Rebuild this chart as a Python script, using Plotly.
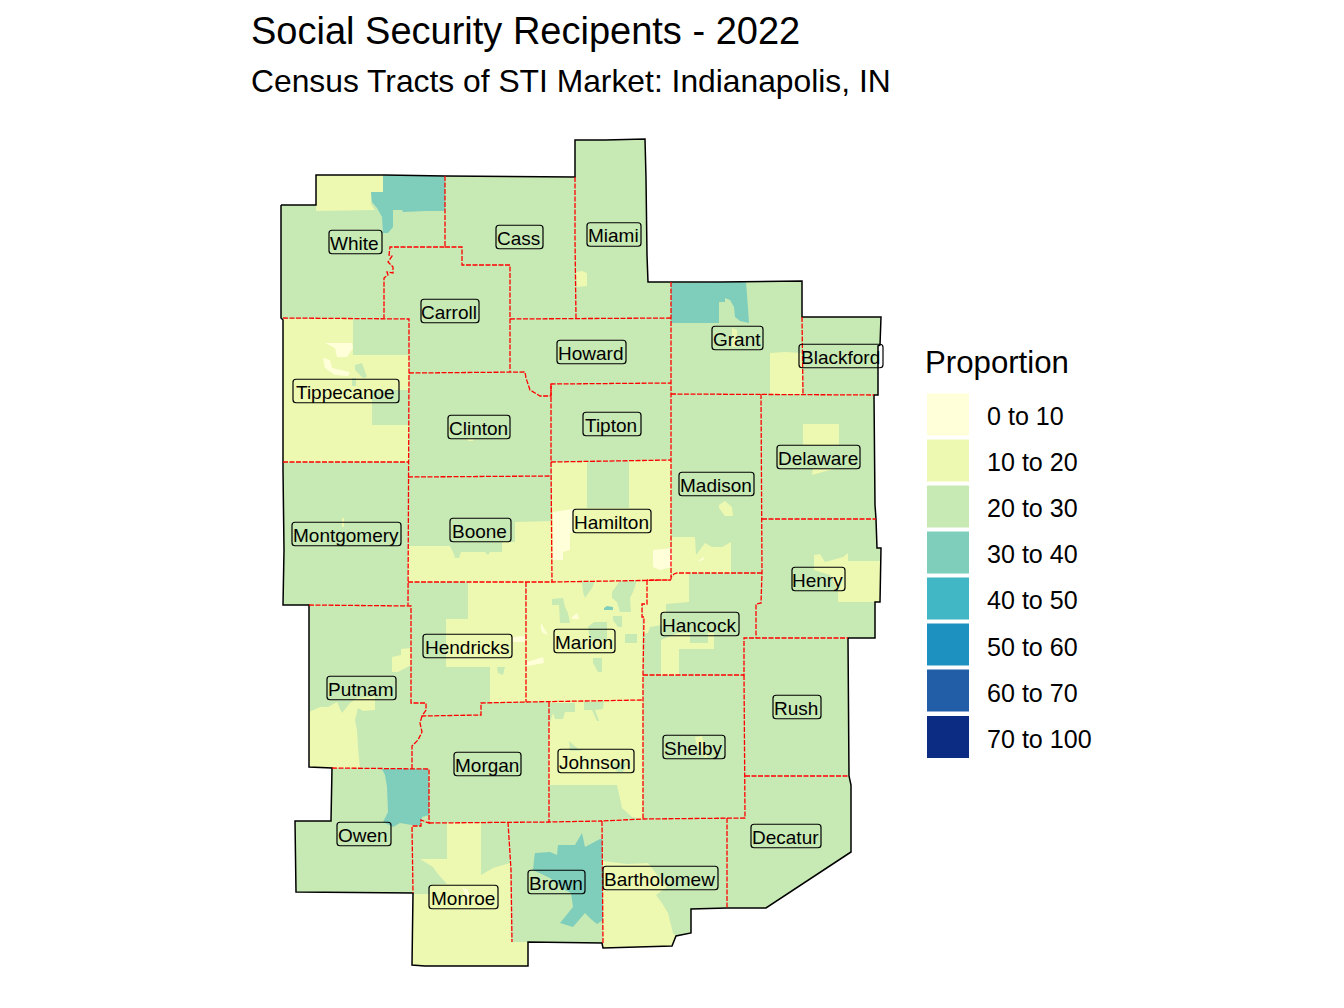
import plotly.graph_objects as go

TITLE = "Social Security Recipents - 2022"
SUBTITLE = "Census Tracts of STI Market: Indianapolis, IN"
LEGEND_TITLE = "Proportion"
BIN_LABELS = ["0 to 10", "10 to 20", "20 to 30", "30 to 40", "40 to 50", "50 to 60", "60 to 70", "70 to 100"]
BIN_COLORS = ["#FFFFD9", "#EDF8B1", "#C7E9B4", "#7FCDBB", "#41B6C4", "#1D91C0", "#225EA8", "#0C2C84"]

# study area, map units
OUTLINE = [(281,205),(316,205),(316,175),(385,175),(445,176),(575,177),(575,140),(605,140),(645,139),(646,178),
           (647,255),(648,282),(720,282),(802,281),(802,317),(881,317),(880,345),(878,346),(878,395),(874,395),
           (875,505),(876,519),(877,548),(881,548),(880,602),(875,602),(875,638),(848,638),(849,776),(851,785),
           (851,852),(766,908),(727,908),(691,909),(691,933),(676,936),(672,946),(643,947),(603,948),(602,943),
           (528,942),(528,966),(425,966),(412,965),(413,893),(296,892),(295,821),(331,821),(332,768),(309,767),
           (309,670),(309,605),(283,605),(284,550),(283,470),(283,320),(281,318)]

# tract groups by class
CLASS_10_20 = [
    [(316,175),(383,175),(383,192),(371,192),(371,204),(375,210),(316,211)],
    [(576,272),(582,271),(587,273),(587,286),(577,287)],
    [(283,319),(353,319),(353,355),(409,355),(409,390),(372,390),(372,425),(409,425),(409,462),(283,462)],
    [(552,462),(587,462),(587,508),(629,508),(629,461),(671,460),(671,580),(552,582)],
    [(408,546),(450,546),(453,552),(455,558),(459,558),(461,552),(485,552),(488,555),(490,552),(502,552),
     (502,542),(515,542),(515,522),(552,521),(552,582),(408,582)],
    [(468,582),(525,582),(526,702),(490,702),(490,667),(446,667),(446,619),(468,619)],
    [(526,582),(647,581),(647,604),(642,604),(643,700),(526,702)],
    [(549,702),(643,700),(643,819),(632,817),(622,808),(617,785),(549,785)],
    [(672,537),(695,537),(696,555),(705,543),(712,547),(722,547),(731,542),(731,573),(677,573),(672,580)],
    [(719,505),(725,501),(732,507),(733,516),(725,516),(719,508)],
    [(672,580),(677,573),(689,573),(689,602),(666,604),(666,613),(662,613),(662,625),(650,627),(648,633),
     (643,634),(643,605),(647,604),(647,580)],
    [(661,640),(678,633),(690,633),(690,643),(708,643),(708,633),(714,633),(714,649),(679,649),(679,675),(661,675)],
    [(732,328),(737,330),(737,347),(732,347)],
    [(770,353),(785,352),(802,353),(802,394),(770,394)],
    [(803,424),(839,424),(839,445),(803,445)],
    [(813,468),(837,468),(823,472),(812,475)],
    [(814,555),(820,554),(825,562),(843,557),(848,553),(848,561),(880,561),(880,602),(838,602),(838,590),(830,575),(814,570)],
    [(401,649),(411,648),(411,665),(398,672),(392,672),(392,657),(401,655)],
    [(309,712),(320,707),(328,707),(337,702),(342,713),(350,703),(357,698),(375,696),(375,710),(363,711),(358,708),
     (355,720),(357,730),(358,747),(360,768),(335,768),(309,767)],
    [(447,823),(481,823),(481,875),(493,868),(510,863),(511,942),(528,942),(528,966),(412,965),(413,894),
     (430,894),(430,885),(447,884),(437,873),(433,867),(420,859),(447,859)],
    [(603,861),(627,864),(648,863),(667,887),(656,895),(662,903),(668,913),(673,933),(676,936),(672,946),(643,947),(603,948)],
    [(695,737),(702,736),(708,757),(705,758),(696,743)],
    [(467,438),(474,438),(473,441),(468,441)],
    [(342,518),(344,518),(344,527),(342,527)],
]

CLASS_20_30 = [
    [(355,365),(362,363),(367,377),(363,378),(355,370)],
    [(352,378),(356,378),(356,386),(352,386)],
    [(497,667),(505,667),(503,675),(498,673)],
    [(552,599),(563,598),(565,607),(568,613),(570,623),(560,623),(559,605),(552,605)],
    [(582,581),(595,581),(592,588),(585,598),(583,592)],
    [(612,592),(620,581),(637,580),(633,592),(630,598),(631,612),(620,612),(617,602),(612,598)],
    [(613,616),(622,616),(622,627),(618,627),(613,620)],
    [(625,634),(637,634),(637,643),(625,643)],
    [(588,627),(594,622),(607,622),(607,640),(590,640)],
    [(593,658),(602,658),(602,672),(598,672),(593,663)],
    [(549,703),(575,703),(575,712),(565,712),(563,719),(555,719),(553,713),(549,725)],
    [(584,702),(604,701),(603,709),(595,710),(599,721),(597,721),(592,710),(584,710)],
    [(569,741),(577,748),(582,751),(570,751)],
    [(613,763),(627,763),(623,772),(617,772)],
]

CLASS_0_10 = [
    [(325,343),(352,343),(353,348),(347,357),(337,357),(335,348)],
    [(323,358),(330,360),(332,368),(350,372),(348,376),(335,375),(325,368)],
    [(553,512),(573,509),(573,532),(570,533),(570,550),(563,552),(563,560),(553,560)],
    [(653,550),(672,548),(672,567),(660,570),(653,567)],
    [(513,637),(525,636),(525,642),(513,642)],
    [(541,623),(548,635),(543,633),(541,630)],
    [(527,662),(543,657),(544,663),(527,666)],
    [(572,617),(577,613),(579,619),(572,619)],
    [(697,562),(705,556),(703,560),(698,562)],
    [(462,887),(468,890),(470,897),(466,897)],
]

CLASS_30_40 = [
    [(371,192),(372,202),(377,208),(382,217),(383,233),(388,233),(393,227),(393,210),(402,210),(403,212),
     (427,211),(445,211),(445,176),(383,175),(383,192)],
    [(604,608),(607,606),(613,607),(613,610),(604,610)],
    [(671,283),(746,282),(748,308),(749,323),(740,321),(735,317),(734,307),(730,300),(725,298),(725,302),
     (719,302),(719,323),(671,323)],
    [(382,769),(428,769),(429,788),(429,815),(422,817),(420,826),(412,825),(400,823),(393,827),(383,822),
     (388,812),(387,787),(385,775)],
    [(535,853),(550,852),(557,855),(558,845),(575,845),(582,833),(585,847),(600,839),(602,839),(603,920),
     (597,924),(592,920),(585,913),(573,927),(560,923),(573,907),(571,893),(565,890),(550,878),(533,870),(534,860)],
]

# county lines
COUNTY_LINES = [
    [(445,176),(445,198),(445,247),(390,247),(389,255),(392,256),(388,262),(393,267),(393,273),(387,272),(388,275),(384,278),(384,318)],
    [(445,247),(462,247),(462,265),(510,265),(510,319),(510,372)],
    [(283,318),(409,319),(409,373),(408,605)],
    [(409,373),(510,372),(525,372),(526,378),(530,390),(540,396),(551,396),(551,384),(671,383)],
    [(510,319),(671,318)],
    [(575,177),(575,240),(576,318)],
    [(671,282),(671,394),(671,460),(671,580)],
    [(671,394),(874,395)],
    [(802,317),(803,394)],
    [(761,394),(762,519),(762,573),(761,603),(756,604),(756,638)],
    [(762,519),(876,519)],
    [(551,384),(551,462),(552,582)],
    [(551,462),(671,460)],
    [(408,477),(551,476)],
    [(283,462),(409,462)],
    [(408,582),(552,582),(671,580),(647,580)],
    [(309,605),(411,606),(411,703),(426,703),(426,710),(422,716),(481,715),(481,703),(526,702),(643,700)],
    [(526,582),(526,702)],
    [(647,580),(647,604),(642,604),(642,617),(644,617),(643,675),(643,819)],
    [(643,675),(744,675),(744,638),(848,638)],
    [(762,573),(677,573),(674,574),(671,577)],
    [(744,675),(745,776),(745,818),(643,819),(602,821),(603,943)],
    [(745,776),(849,776)],
    [(727,818),(727,908)],
    [(549,702),(549,822),(602,821)],
    [(508,822),(511,870),(512,942)],
    [(429,823),(549,822)],
    [(332,768),(429,769),(429,823),(421,820),(421,826),(412,826),(413,893)],
    [(422,716),(420,723),(422,732),(418,740),(412,746),(412,769)],
]

COUNTIES = ["White","Cass","Miami","Carroll","Howard","Grant","Blackford","Tippecanoe","Clinton","Tipton",
            "Delaware","Madison","Montgomery","Boone","Hamilton","Henry","Hancock","Hendricks","Marion","Putnam",
            "Rush","Morgan","Johnson","Shelby","Owen","Decatur","Monroe","Brown","Bartholomew"]
LABEL_X = [355.5,519.5,614,450,591.5,737.5,841,346,479,612,818.5,716.5,346.5,480.5,612,818.5,700,467.5,584.5,361.5,
           797,487.5,596,694,364,786,463.5,556.5,660.5]
LABEL_Y = [242,237,234.5,311,352,338,356,391,427,424,457,484,534,530,521,579,624,646,641,688,
           707,764,761,747,834,836,897,882,878]
LABEL_W = [53,47,54,58,69,51,84,106,62,58,83,75,109,61,78,53,78,89,61,69,48,67,76,62,54,70,69,57,115]


def ring_trace(ring, color):
    xs = [p[0] for p in ring] + [ring[0][0]]
    ys = [p[1] for p in ring] + [ring[0][1]]
    return go.Scatter(x=xs, y=ys, mode="lines", fill="toself", fillcolor=color,
                      line=dict(width=0, color=color), hoverinfo="skip", showlegend=False)


def line_trace(pts, color, width, dash="solid"):
    return go.Scatter(x=[p[0] for p in pts], y=[p[1] for p in pts], mode="lines",
                      line=dict(color=color, width=width, dash=dash), hoverinfo="skip", showlegend=False)


def round_box(cx, cy, w, h=23.5, r=3):
    x0, x1, y0, y1 = cx - w / 2, cx + w / 2, cy - h / 2, cy + h / 2
    return (f"M{x0+r},{y0} L{x1-r},{y0} Q{x1},{y0} {x1},{y0+r} L{x1},{y1-r} Q{x1},{y1} {x1-r},{y1} "
            f"L{x0+r},{y1} Q{x0},{y1} {x0},{y1-r} L{x0},{y0+r} Q{x0},{y0} {x0+r},{y0} Z")


fig = go.Figure()

fig.add_trace(ring_trace(OUTLINE, BIN_COLORS[2]))
for ring in CLASS_10_20:
    fig.add_trace(ring_trace(ring, BIN_COLORS[1]))
for ring in CLASS_20_30:
    fig.add_trace(ring_trace(ring, BIN_COLORS[2]))
for ring in CLASS_0_10:
    fig.add_trace(ring_trace(ring, BIN_COLORS[0]))
for ring in CLASS_30_40:
    fig.add_trace(ring_trace(ring, BIN_COLORS[3]))

fig.add_trace(line_trace(OUTLINE + OUTLINE[:1], "black", 1.5))
for seg in COUNTY_LINES:
    fig.add_trace(line_trace(seg, "#FF0000", 1.3, "5px,1.5px"))

# legend keys
key_y = [414.5, 460.5, 506.5, 552.5, 598.5, 644.5, 690.5, 737]
text_y = [415.5, 461.5, 507.5, 553.5, 599.5, 646.5, 692.5, 738.5]
fig.add_trace(go.Scatter(x=[948] * len(BIN_COLORS), y=key_y, mode="markers", hoverinfo="skip", showlegend=False,
                         marker=dict(symbol="square", size=42, color=BIN_COLORS, line=dict(width=0))))

FONT = "Liberation Sans"
annotations = [
    dict(x=249, y=31, text=TITLE, font=dict(size=38, family=FONT, color="black")),
    dict(x=249, y=81, text=SUBTITLE, font=dict(size=31.8, family=FONT, color="black")),
    dict(x=923, y=362, text=LEGEND_TITLE, font=dict(size=31.2, family=FONT, color="black")),
]
for lab, yy in zip(BIN_LABELS, text_y):
    annotations.append(dict(x=985, y=yy, text=lab, font=dict(size=25.1, family=FONT, color="black")))
for a in annotations:
    a.update(xref="x", yref="y", xanchor="left", yanchor="middle", showarrow=False)
for name, cx, cy in zip(COUNTIES, LABEL_X, LABEL_Y):
    annotations.append(dict(x=cx - 1, y=cy + 1, text=name, xref="x", yref="y", showarrow=False,
                            xanchor="center", yanchor="middle",
                            font=dict(size=19, family=FONT, color="black")))

shapes = [dict(type="path", path=round_box(cx, cy, w), xref="x", yref="y", layer="above",
               line=dict(color="black", width=1.2), fillcolor="rgba(0,0,0,0)")
          for cx, cy, w in zip(LABEL_X, LABEL_Y, LABEL_W)]

# the page puts the plot 8px in from the corner, so the axes start at 8
fig.update_layout(width=1336, height=1000, margin=dict(l=0, r=0, t=0, b=0),
                  paper_bgcolor="white", plot_bgcolor="white",
                  xaxis=dict(range=[8, 1344], visible=False),
                  yaxis=dict(range=[1008, 8], visible=False),
                  annotations=annotations, shapes=shapes)

fig.write_html("out.html")
